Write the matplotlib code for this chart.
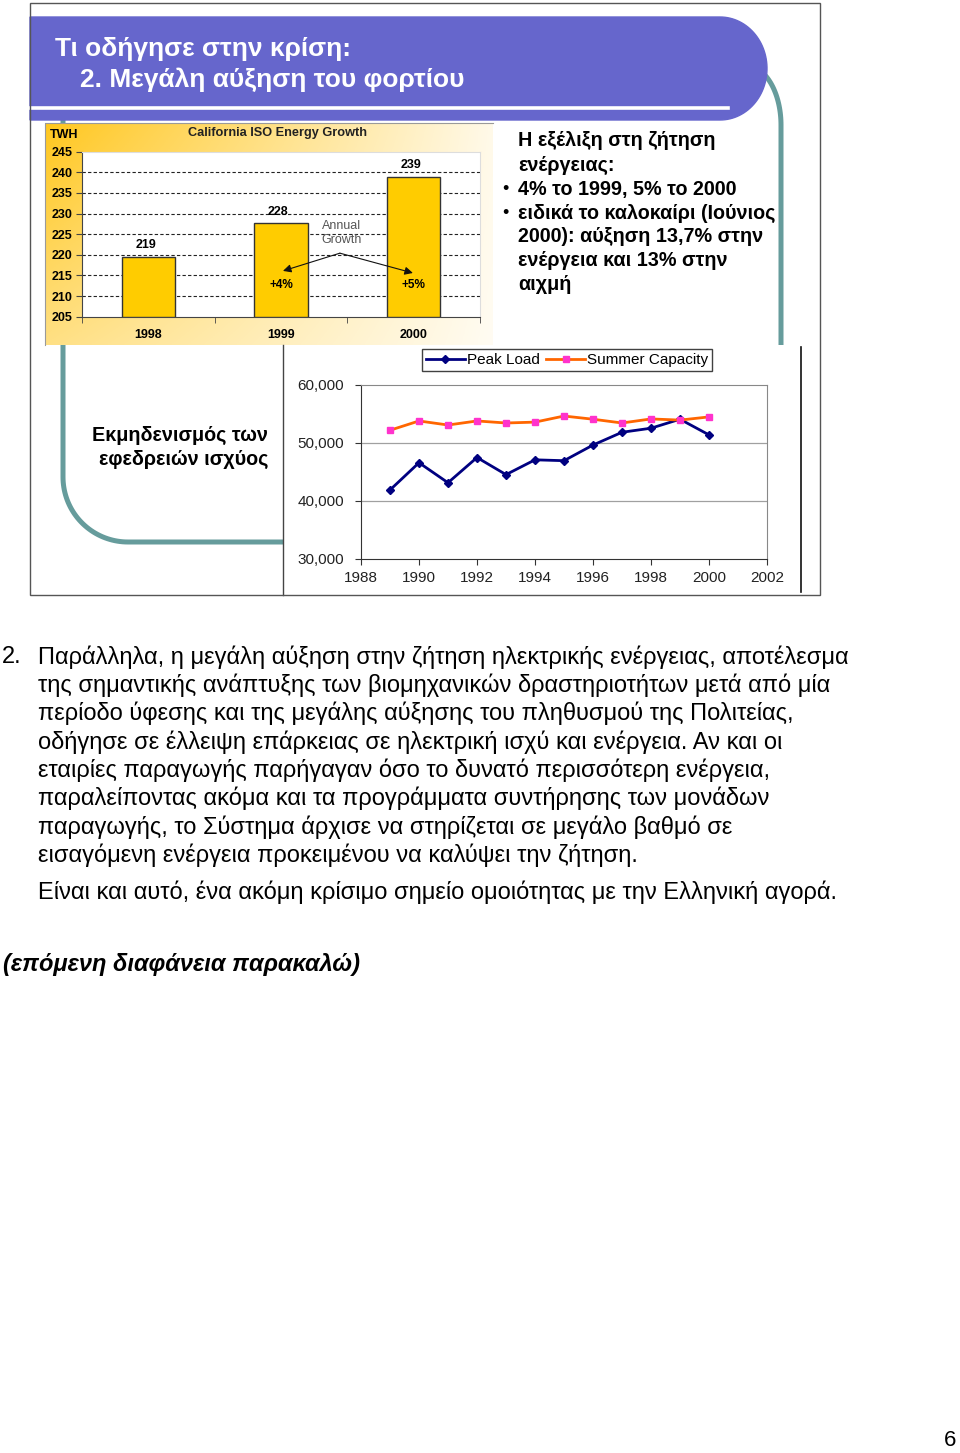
import numpy as np
import matplotlib
matplotlib.use('Agg')
import matplotlib.pyplot as plt
from matplotlib.patches import Rectangle

plt.rcParams['font.family'] = ['Liberation Sans', 'DejaVu Sans']

W, H = 960, 1453

# --- bar chart: California ISO Energy Growth ---
bar_years = ['1998', '1999', '2000']
bar_twh = [219.4, 227.6, 238.8]
bar_labels = ['219', '228', '239']
bar_growth = ['', '+4%', '+5%']
bar_yticks = [205, 210, 215, 220, 225, 230, 235, 240, 245]

# --- line chart: peak load vs summer capacity (MW) ---
line_years = [1989, 1990, 1991, 1992, 1993, 1994, 1995, 1996, 1997, 1998, 1999, 2000]
peak_load = [41900, 46600, 43150, 47500, 44550, 47100, 46950, 49650, 51850, 52550, 54100, 51400]
summer_capacity = [52200, 53800, 53100, 53800, 53450, 53600, 54650, 54100, 53450, 54150, 53950, 54500]
line_xticks = [1988, 1990, 1992, 1994, 1996, 1998, 2000, 2002]
line_yticks = [30000, 40000, 50000, 60000]

title_lines = ['Τι οδήγησε στην κρίση:', '2. Μεγάλη αύξηση του φορτίου']
side_lines = ['Η εξέλιξη στη ζήτηση', 'ενέργειας:', '4% το 1999, 5% το 2000',
              'ειδικά το καλοκαίρι (Ιούνιος', '2000): αύξηση 13,7% στην',
              'ενέργεια και 13% στην', 'αιχμή']
side_bullets = [False, False, True, True, False, False, False]
reserve_lines = ['Εκμηδενισμός των', 'εφεδρειών ισχύος']
para_lines = [
    'Παράλληλα, η μεγάλη αύξηση στην ζήτηση ηλεκτρικής ενέργειας, αποτέλεσμα',
    'της σημαντικής ανάπτυξης των βιομηχανικών δραστηριοτήτων μετά από μία',
    'περίοδο ύφεσης και της μεγάλης αύξησης του πληθυσμού της Πολιτείας,',
    'οδήγησε σε έλλειψη επάρκειας σε ηλεκτρική ισχύ και ενέργεια. Αν και οι',
    'εταιρίες παραγωγής παρήγαγαν όσο το δυνατό περισσότερη ενέργεια,',
    'παραλείποντας ακόμα και τα προγράμματα συντήρησης των μονάδων',
    'παραγωγής, το Σύστημα άρχισε να στηρίζεται σε μεγάλο βαθμό σε',
    'εισαγόμενη ενέργεια προκειμένου να καλύψει την ζήτηση.',
]
para_last = 'Είναι και αυτό, ένα ακόμη κρίσιμο σημείο ομοιότητας με την Ελληνική αγορά.'
footer = '(επόμενη διαφάνεια παρακαλώ)'


def px_axes(fig, x0, y0, x1, y1, **kw):
    # axes placed in pixel coordinates (y measured from top)
    return fig.add_axes([x0 / W, 1 - y1 / H, (x1 - x0) / W, (y1 - y0) / H], **kw)


def main():
    fig = plt.figure(figsize=(W / 100, H / 100), dpi=100)
    fig.patch.set_facecolor('white')

    # overlay for slide decorations, pixel coords
    deco = px_axes(fig, 0, 0, W, H)
    deco.set_xlim(0, W)
    deco.set_ylim(H, 0)
    deco.axis('off')

    teal = '#669C9C'
    # left teal curve
    th = np.linspace(np.pi, np.pi / 2, 40)
    xs = np.concatenate([[63], 128 + 65 * np.cos(th), [300]])
    ys = np.concatenate([[120], 477 + 65 * np.sin(th), [542]])
    deco.plot(xs, ys, color=teal, lw=3.6, solid_capstyle='butt', zorder=1)
    # right teal curve
    th = np.linspace(-np.pi / 2, 0, 40)
    xs = np.concatenate([745 + 36 * np.cos(th), [781]])
    ys = np.concatenate([125 + 60 * np.sin(th), [400]])
    deco.plot(xs, ys, color=teal, lw=3.6, solid_capstyle='butt', zorder=1)

    # title banner with rounded right end
    th = np.linspace(-np.pi / 2, np.pi / 2, 60)
    bx = np.concatenate([[30, 720], 720 + 47 * np.cos(th), [720, 30]])
    by = np.concatenate([[17, 17], 68.5 + 51.5 * np.sin(th), [120, 120]])
    deco.fill(bx, by, color='#6666CC', zorder=2)
    deco.plot([30, 728], [108, 108], color='white', lw=2.6, zorder=3)
    deco.text(55, 49, title_lines[0], color='white', fontsize=19, fontweight='bold',
              va='center', ha='left', zorder=4)
    deco.text(80, 80, title_lines[1], color='white', fontsize=19, fontweight='bold',
              va='center', ha='left', zorder=4)

    # white panel behind line chart, with its side borders
    deco.add_patch(Rectangle((283, 345), 518, 250, facecolor='white', edgecolor='none', zorder=2))
    deco.plot([283, 283], [345, 595], color='#444444', lw=1, zorder=3)
    deco.plot([801, 801], [347, 592], color='#111111', lw=1.2, zorder=3)

    # gradient box behind bar chart
    gx = np.linspace(0, 1, 240)[None, :]
    gy = np.linspace(0, 1, 120)[:, None]
    f = np.clip(1 - 0.9 * gx, 0, 1) * (1 - 0.45 * gy)
    yellow = np.array([1.0, 0.78, 0.12])
    img = (1 - f)[..., None] * np.ones(3) + f[..., None] * yellow
    deco.imshow(img, extent=(45, 493, 345, 123), aspect='auto', zorder=2)
    deco.plot([45, 45, 493], [345, 123, 123], color='#9A9A9A', lw=0.8, zorder=3)

    # slide frame
    deco.add_patch(Rectangle((30, 3), 790, 592, facecolor='none', edgecolor='#555555', lw=1, zorder=5))

    # side text
    ys = [141, 165, 189, 213, 237, 261, 285]
    for line, bullet, yy in zip(side_lines, side_bullets, ys):
        deco.text(518, yy, line, fontsize=14.2, fontweight='bold', va='center', ha='left', zorder=4)
        if bullet:
            deco.text(502, yy, '•', fontsize=13, va='center', ha='left', zorder=4)

    deco.text(268, 435, reserve_lines[0], fontsize=14.2, fontweight='bold', va='center', ha='right', zorder=4)
    deco.text(268, 459, reserve_lines[1], fontsize=14.2, fontweight='bold', va='center', ha='right', zorder=4)

    # paragraph
    deco.text(2, 657, '2.', fontsize=17, va='center', ha='left')
    for i, line in enumerate(para_lines):
        deco.text(38, 657 + 28.3 * i, line, fontsize=17, va='center', ha='left')
    deco.text(38, 892, para_last, fontsize=17, va='center', ha='left')
    deco.text(3, 965, footer, fontsize=17, fontweight='bold', style='italic', va='center', ha='left')
    deco.text(950, 1441, '6', fontsize=16, va='center', ha='center')

    # --- bar chart ---
    ax = px_axes(fig, 82, 151.7, 480, 316.7)
    ax.set_zorder(6)
    xpos = np.arange(len(bar_years))
    ax.bar(xpos, [v - 205 for v in bar_twh], bottom=205, width=0.4, color='#FFCC00',
           edgecolor='#333333', linewidth=1, zorder=3)
    ax.set_xlim(-0.5, 2.5)
    ax.set_ylim(205, 245)
    for t in bar_yticks[1:-1]:
        ax.axhline(t, color='#222222', lw=0.8, ls=(0, (3, 2)), zorder=1)
    ax.set_yticks(bar_yticks)
    ax.set_yticklabels([str(t) for t in bar_yticks], fontsize=9, fontweight='bold')
    ax.set_xticks(xpos)
    ax.set_xticklabels(bar_years, fontsize=9, fontweight='bold')
    ax.set_xticks([-0.5, 0.5, 1.5, 2.5], minor=True)
    ax.tick_params(axis='x', which='major', length=0, pad=9)
    ax.tick_params(axis='x', which='minor', length=4, color='#444444')
    ax.tick_params(axis='y', length=4, color='#444444', pad=3)
    for s in ['left', 'bottom']:
        ax.spines[s].set_color('#444444')
    for s in ['top', 'right']:
        ax.spines[s].set_color('#DDDDDD')
    for x, v, lab in zip(xpos, bar_twh, bar_labels):
        ax.text(x - 0.02, v + 2.9, lab, fontsize=9, fontweight='bold', ha='center', va='center')
    for x, g in zip(xpos, bar_growth):
        if g:
            ax.text(x, 212.6, g, fontsize=8.5, fontweight='bold', ha='center', va='center')
    ax.text(1.46, 225.3, 'Annual\nGrowth', fontsize=9, color='#555555', ha='center',
            va='center', linespacing=1.15)
    for tx, ty in [(1.015, 216.1), (1.994, 215.6)]:
        ax.annotate('', xy=(tx, ty), xytext=(1.444, 220.4),
                    arrowprops=dict(arrowstyle='-|>', color='#111111', lw=0.8,
                                    mutation_scale=12, shrinkA=0, shrinkB=0), zorder=5)
    fig.text(50 / W, 1 - 135 / H, 'TWH', fontsize=9, fontweight='bold', va='center', ha='left')
    fig.text(277 / W, 1 - 133 / H, 'California ISO Energy Growth', fontsize=9.2,
             fontweight='bold', va='center', ha='center', color='#222222')

    # --- line chart ---
    lx = px_axes(fig, 361, 385, 767, 559)
    lx.set_zorder(6)
    lx.plot(line_years, peak_load, color='#000080', lw=2, marker='D', markersize=4,
            label='Peak Load', zorder=3)
    lx.plot(line_years, summer_capacity, color='#FF6600', lw=2, marker='s', markersize=4,
            markerfacecolor='#FF33CC', markeredgecolor='#FF33CC', label='Summer Capacity', zorder=3)
    lx.set_xlim(1988, 2002)
    lx.set_ylim(30000, 60000)
    lx.set_xticks(line_xticks)
    lx.set_xticklabels([str(t) for t in line_xticks], fontsize=11, color='#222222')
    lx.set_yticks(line_yticks)
    lx.set_yticklabels([f'{t:,}' for t in line_yticks], fontsize=11, color='#222222')
    for t in line_yticks[1:-1]:
        lx.axhline(t, color='#A0A0A0', lw=0.9, zorder=1)
    lx.tick_params(axis='x', length=4, color='#333333', pad=5)
    lx.tick_params(axis='y', length=4, color='#333333', pad=8)
    for s in ['left', 'bottom']:
        lx.spines[s].set_color('#333333')
    for s in ['top', 'right']:
        lx.spines[s].set_color('#888888')
    leg = lx.legend(loc='center', bbox_to_anchor=(0.507, 1.144), ncol=2, fontsize=11,
                    frameon=True, fancybox=False, edgecolor='#111111', handlelength=2.6,
                    handletextpad=0.1, columnspacing=0.4, borderpad=0.25, borderaxespad=0)
    leg.get_frame().set_linewidth(1)

    fig.savefig('out.png', dpi=100)


if __name__ == '__main__':
    main()
